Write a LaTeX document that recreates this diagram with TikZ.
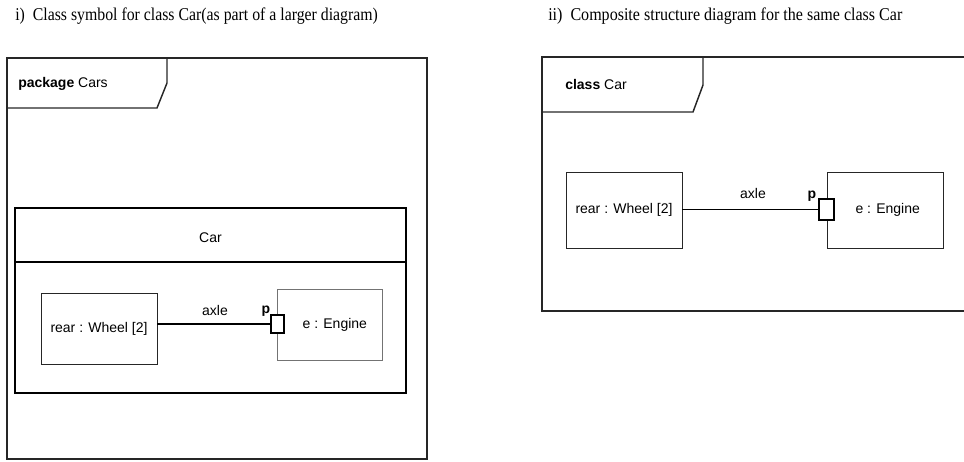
\documentclass[tikz,border=0pt]{standalone}
\usepackage{fontspec}
\setmainfont{Liberation Serif}
\newfontfamily\labfont{Liberation Sans}
\begin{document}
\begin{tikzpicture}[x=0.75pt,y=-0.75pt,
  frame/.style={draw=black!85,line width=1.1pt},
  cls/.style={draw=black,line width=1.1pt,rectangle,inner sep=0pt},
  part/.style={draw=black!85,line width=0.7pt,rectangle,inner sep=0pt,font=\labfont\fontsize{10.5}{12}\selectfont},
  port/.style={draw=black,line width=1.2pt,fill=white,rectangle,inner sep=0pt},
  lab/.style={font=\labfont\fontsize{10.5}{12}\selectfont,inner sep=0pt},
  conn/.style={draw=black,line width=0.8pt}]
\useasboundingbox (0,0) rectangle (964,461);
% titles
\node[anchor=west,inner sep=0pt] (t1) at (15,16) {\resizebox{272pt}{9.5pt}{i)\ \ Class symbol for class Car(as part of a larger diagram)}};
\node[anchor=west,inner sep=0pt] (t2) at (548,16) {\resizebox{265.5pt}{9.5pt}{ii)\ \ Composite structure diagram for the same class Car}};
% left frame
\draw[frame] (7,58) rectangle (427,459);
\draw[frame] (7,108) -- (157,108) -- (167,83) -- (167,58);
\node[lab,anchor=west] (pk) at (18,84) {\textbf{package} Cars};
% class box
\node[cls,minimum width=293.25pt,minimum height=138.75pt] (car) at (210.5,300.5) {};
\draw[cls] (car.west |- 0,262) -- (car.east |- 0,262);
\node[lab] (carname) at (210.5,238) {Car};
\node[part,minimum width=87pt,minimum height=53.25pt] (rearL) at (99,328.5) {rear : Wheel [2]};
\node[part,draw=black!55,minimum width=78.75pt,minimum height=53.25pt] (engL) at (329.5,324.5) {\hspace{8pt}e : Engine};
\node[port,minimum width=9.75pt,minimum height=13.5pt] (portL) at (277.5,324) {};
\draw[conn] (rearL.east |- portL.west) -- (portL.west);
\node[lab] (axleL) at (215,310) {axle};
\node[lab,font=\labfont\bfseries\fontsize{10.5}{12}\selectfont] (pL) at (266,311) {p};
% right frame
\draw[frame] (964,57) -- (542,57) -- (542,311) -- (964,311);
\draw[frame] (542,112) -- (693,112) -- (703,85) -- (703,57);
\node[lab,anchor=west] (cc) at (565,84) {\textbf{class} Car};
\node[part,minimum width=87pt,minimum height=57pt] (rearR) at (624,210) {rear : Wheel [2]};
\node[part,minimum width=87pt,minimum height=57pt] (engR) at (885,210) {\hspace{4pt}e : Engine};
\node[port,minimum width=11.25pt,minimum height=15.75pt] (portR) at (826.5,209.5) {};
\draw[conn] (rearR.east |- portR.west) -- (portR.west);
\node[lab] (axleR) at (753,193) {axle};
\node[lab,font=\labfont\bfseries\fontsize{10.5}{12}\selectfont] (pR) at (812,196) {p};
\end{tikzpicture}
\end{document}
